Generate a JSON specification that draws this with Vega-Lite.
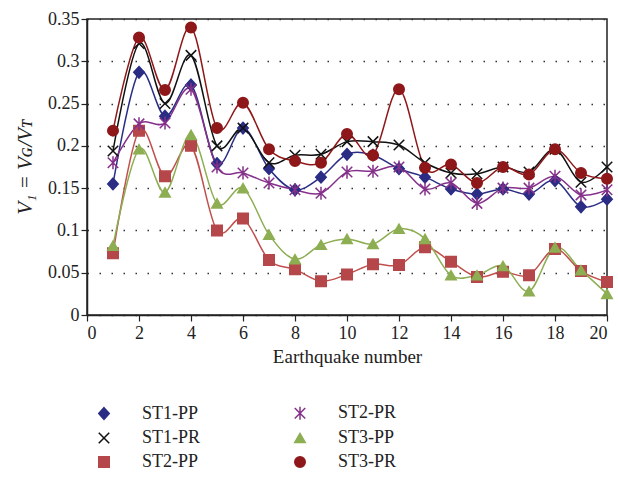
{
  "$schema": "https://vega.github.io/schema/vega-lite/v6.json",
  "width": 520,
  "height": 296,
  "autosize": {"type": "none"},
  "padding": {"left": 87, "top": 19, "right": 11, "bottom": 163},
  "background": "white",
  "config": {
    "font": "Liberation Serif",
    "view": {"stroke": "#222", "strokeWidth": 1.5},
    "axis": {"labelFont": "Liberation Serif", "titleFont": "Liberation Serif", "labelFontSize": 18, "titleFontSize": 19, "labelColor": "#222", "titleColor": "#222", "titleFontWeight": "normal", "domainColor": "#222", "domainWidth": 1.5, "tickColor": "#222", "tickWidth": 1.2, "tickSize": 6},
    "legend": {"labelFont": "Liberation Serif", "labelFontSize": 18, "labelColor": "#222"}
  },
  "data": {"values": [
    {"x":1,"s":"ST1-PP","v":0.155},{"x":2,"s":"ST1-PP","v":0.287},{"x":3,"s":"ST1-PP","v":0.235},{"x":4,"s":"ST1-PP","v":0.272},{"x":5,"s":"ST1-PP","v":0.179},{"x":6,"s":"ST1-PP","v":0.221},{"x":7,"s":"ST1-PP","v":0.173},{"x":8,"s":"ST1-PP","v":0.148},{"x":9,"s":"ST1-PP","v":0.163},{"x":10,"s":"ST1-PP","v":0.190},{"x":11,"s":"ST1-PP","v":0.189},{"x":12,"s":"ST1-PP","v":0.173},{"x":13,"s":"ST1-PP","v":0.163},{"x":14,"s":"ST1-PP","v":0.149},{"x":15,"s":"ST1-PP","v":0.143},{"x":16,"s":"ST1-PP","v":0.149},{"x":17,"s":"ST1-PP","v":0.143},{"x":18,"s":"ST1-PP","v":0.159},{"x":19,"s":"ST1-PP","v":0.128},{"x":20,"s":"ST1-PP","v":0.137},
    {"x":1,"s":"ST1-PR","v":0.194},{"x":2,"s":"ST1-PR","v":0.321},{"x":3,"s":"ST1-PR","v":0.250},{"x":4,"s":"ST1-PR","v":0.307},{"x":5,"s":"ST1-PR","v":0.200},{"x":6,"s":"ST1-PR","v":0.221},{"x":7,"s":"ST1-PR","v":0.180},{"x":8,"s":"ST1-PR","v":0.189},{"x":9,"s":"ST1-PR","v":0.190},{"x":10,"s":"ST1-PR","v":0.205},{"x":11,"s":"ST1-PR","v":0.205},{"x":12,"s":"ST1-PR","v":0.201},{"x":13,"s":"ST1-PR","v":0.180},{"x":14,"s":"ST1-PR","v":0.168},{"x":15,"s":"ST1-PR","v":0.167},{"x":16,"s":"ST1-PR","v":0.175},{"x":17,"s":"ST1-PR","v":0.169},{"x":18,"s":"ST1-PR","v":0.196},{"x":19,"s":"ST1-PR","v":0.157},{"x":20,"s":"ST1-PR","v":0.175},
    {"x":1,"s":"ST2-PP","v":0.073},{"x":2,"s":"ST2-PP","v":0.218},{"x":3,"s":"ST2-PP","v":0.164},{"x":4,"s":"ST2-PP","v":0.200},{"x":5,"s":"ST2-PP","v":0.100},{"x":6,"s":"ST2-PP","v":0.114},{"x":7,"s":"ST2-PP","v":0.065},{"x":8,"s":"ST2-PP","v":0.054},{"x":9,"s":"ST2-PP","v":0.040},{"x":10,"s":"ST2-PP","v":0.048},{"x":11,"s":"ST2-PP","v":0.060},{"x":12,"s":"ST2-PP","v":0.059},{"x":13,"s":"ST2-PP","v":0.080},{"x":14,"s":"ST2-PP","v":0.063},{"x":15,"s":"ST2-PP","v":0.045},{"x":16,"s":"ST2-PP","v":0.051},{"x":17,"s":"ST2-PP","v":0.047},{"x":18,"s":"ST2-PP","v":0.078},{"x":19,"s":"ST2-PP","v":0.052},{"x":20,"s":"ST2-PP","v":0.039},
    {"x":1,"s":"ST2-PR","v":0.180},{"x":2,"s":"ST2-PR","v":0.226},{"x":3,"s":"ST2-PR","v":0.227},{"x":4,"s":"ST2-PR","v":0.267},{"x":5,"s":"ST2-PR","v":0.175},{"x":6,"s":"ST2-PR","v":0.168},{"x":7,"s":"ST2-PR","v":0.156},{"x":8,"s":"ST2-PR","v":0.148},{"x":9,"s":"ST2-PR","v":0.144},{"x":10,"s":"ST2-PR","v":0.169},{"x":11,"s":"ST2-PR","v":0.170},{"x":12,"s":"ST2-PR","v":0.175},{"x":13,"s":"ST2-PR","v":0.149},{"x":14,"s":"ST2-PR","v":0.156},{"x":15,"s":"ST2-PR","v":0.132},{"x":16,"s":"ST2-PR","v":0.150},{"x":17,"s":"ST2-PR","v":0.150},{"x":18,"s":"ST2-PR","v":0.164},{"x":19,"s":"ST2-PR","v":0.142},{"x":20,"s":"ST2-PR","v":0.148},
    {"x":1,"s":"ST3-PP","v":0.082},{"x":2,"s":"ST3-PP","v":0.196},{"x":3,"s":"ST3-PP","v":0.145},{"x":4,"s":"ST3-PP","v":0.213},{"x":5,"s":"ST3-PP","v":0.132},{"x":6,"s":"ST3-PP","v":0.150},{"x":7,"s":"ST3-PP","v":0.095},{"x":8,"s":"ST3-PP","v":0.066},{"x":9,"s":"ST3-PP","v":0.083},{"x":10,"s":"ST3-PP","v":0.090},{"x":11,"s":"ST3-PP","v":0.084},{"x":12,"s":"ST3-PP","v":0.102},{"x":13,"s":"ST3-PP","v":0.090},{"x":14,"s":"ST3-PP","v":0.047},{"x":15,"s":"ST3-PP","v":0.047},{"x":16,"s":"ST3-PP","v":0.058},{"x":17,"s":"ST3-PP","v":0.028},{"x":18,"s":"ST3-PP","v":0.080},{"x":19,"s":"ST3-PP","v":0.053},{"x":20,"s":"ST3-PP","v":0.025},
    {"x":1,"s":"ST3-PR","v":0.218},{"x":2,"s":"ST3-PR","v":0.328},{"x":3,"s":"ST3-PR","v":0.266},{"x":4,"s":"ST3-PR","v":0.340},{"x":5,"s":"ST3-PR","v":0.221},{"x":6,"s":"ST3-PR","v":0.251},{"x":7,"s":"ST3-PR","v":0.196},{"x":8,"s":"ST3-PR","v":0.182},{"x":9,"s":"ST3-PR","v":0.180},{"x":10,"s":"ST3-PR","v":0.214},{"x":11,"s":"ST3-PR","v":0.189},{"x":12,"s":"ST3-PR","v":0.267},{"x":13,"s":"ST3-PR","v":0.174},{"x":14,"s":"ST3-PR","v":0.178},{"x":15,"s":"ST3-PR","v":0.156},{"x":16,"s":"ST3-PR","v":0.175},{"x":17,"s":"ST3-PR","v":0.166},{"x":18,"s":"ST3-PR","v":0.196},{"x":19,"s":"ST3-PR","v":0.168},{"x":20,"s":"ST3-PR","v":0.161}
  ]},
  "encoding": {
    "x": {"field": "x", "type": "quantitative", "scale": {"domain": [0, 20], "nice": false}, "axis": {"values": [0,2,4,6,8,10,12,14,16,18,20], "grid": false, "title": "Earthquake number", "labelPadding": 3, "titlePadding": 5}},
    "y": {"field": "v", "type": "quantitative", "scale": {"domain": [0, 0.35], "nice": false}, "axis": {"values": [0,0.05,0.1,0.15,0.2,0.25,0.3,0.35], "format": ".2~f", "grid": true, "gridColor": "#333", "gridDash": [1.5, 10.5], "gridWidth": 1.5, "title": "V₁ = Vɢ/Vᴛ", "titleFontStyle": "italic", "titleFontSize": 21, "titlePadding": 12, "labelPadding": 2}}
  },
  "layer": [
    {
      "mark": {"type": "line", "interpolate": "cardinal", "strokeWidth": 1.5},
      "encoding": {
        "color": {"field": "s", "type": "nominal", "legend": null, "scale": {"domain": ["ST1-PP","ST1-PR","ST2-PP","ST2-PR","ST3-PP","ST3-PR"], "range": ["#2B2D85","#111111","#C0504D","#85308A","#8DAE52","#8E1719"]}}
      }
    },
    {
      "mark": {"type": "point", "opacity": 1, "strokeWidth": 1.5, "size": 110},
      "encoding": {
        "fill": {"field": "s", "type": "nominal", "scale": {"domain": ["ST1-PP","ST2-PR","ST1-PR","ST3-PP","ST2-PP","ST3-PR"], "range": ["#2B2D85","#85308A","#111111","#8DAE52","#B5474A","#8E1719"]},
          "legend": {"title": null, "orient": "bottom", "offset": 30, "padding": 8, "columns": 2, "direction": "horizontal", "symbolSize": 110, "symbolStrokeWidth": 1.5, "labelOffset": 29, "rowPadding": 6, "columnPadding": 90}},
        "stroke": {"field": "s", "type": "nominal", "scale": {"domain": ["ST1-PP","ST2-PR","ST1-PR","ST3-PP","ST2-PP","ST3-PR"], "range": ["#2B2D85","#85308A","#111111","#8DAE52","#B5474A","#8E1719"]},
          "legend": {"title": null, "orient": "bottom", "offset": 30, "padding": 8, "columns": 2, "direction": "horizontal", "symbolSize": 110, "symbolStrokeWidth": 1.5, "labelOffset": 29, "rowPadding": 6, "columnPadding": 90}},
        "shape": {"field": "s", "type": "nominal", "scale": {"domain": ["ST1-PP","ST2-PR","ST1-PR","ST3-PP","ST2-PP","ST3-PR"], "range": ["M0,-1.1L1,0L0,1.1L-1,0Z","M-1,-1L1,1M-1,1L1,-1M0,-1.25V1.25","M-1,-1L1,1M-1,1L1,-1","triangle-up","square","circle"]},
          "legend": {"title": null, "orient": "bottom", "offset": 30, "padding": 8, "columns": 2, "direction": "horizontal", "symbolSize": 110, "symbolStrokeWidth": 1.5, "labelOffset": 29, "rowPadding": 6, "columnPadding": 90}}
      }
    }
  ]
}
